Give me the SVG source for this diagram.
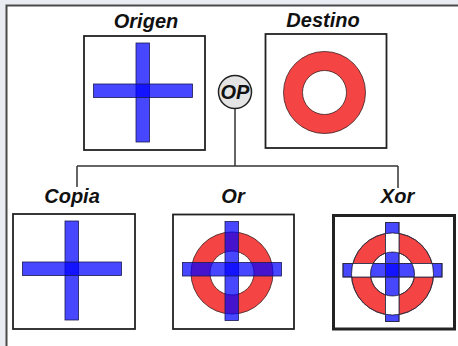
<svg xmlns="http://www.w3.org/2000/svg" xmlns:xlink="http://www.w3.org/1999/xlink" width="458" height="346" viewBox="0 0 458 346">
<style>
.lbl{font-family:"Liberation Sans",Arial,sans-serif;font-weight:bold;font-style:italic;font-size:20px;fill:#111;text-anchor:middle}
.box{fill:#fff;stroke:#222;stroke-width:1.8}
.ring{fill:#f44444;stroke:#3a2020;stroke-width:0.8}
.bar{fill:#0000ff;fill-opacity:0.72;stroke:#1a1a50;stroke-width:0.8}
.outline{fill:none;stroke:#2a2a40;stroke-width:0.8}
.conn{stroke:#333;stroke-width:1.5;fill:none}
</style>
<defs>
<path id="ring" fill-rule="evenodd" clip-rule="evenodd" d="M18,58.5 a41,41 0 1,0 82,0 a41,41 0 1,0 -82,0 Z M37,58.5 a22,22 0 1,0 44,0 a22,22 0 1,0 -44,0 Z"/>
<g id="cross"><rect x="52" y="7" width="13.5" height="99"/><rect x="9.5" y="48" width="99" height="13.5"/></g>
<clipPath id="annulus"><use xlink:href="#ring"/></clipPath>
</defs>
<rect x="0" y="0" width="458" height="346" fill="#e9edf1"/>
<rect x="6.5" y="5.5" width="460" height="350" fill="#fff" stroke="#4a4a4a" stroke-width="2"/>
<g id="connectors">
<line class="conn" x1="235" y1="108" x2="235" y2="166"/>
<line class="conn" x1="77" y1="166" x2="398" y2="166"/>
<line class="conn" x1="77" y1="166" x2="77" y2="187"/>
<line class="conn" x1="398" y1="166" x2="398" y2="188"/>
</g>
<g id="origen">
<text class="lbl" x="146" y="28">Origen</text>
<g transform="translate(84,36)">
<rect class="box" x="0" y="0" width="121" height="114"/>
<use xlink:href="#cross" class="bar"/>
</g>
</g>
<g id="destino">
<text class="lbl" x="323" y="27">Destino</text>
<g transform="translate(265.5,34)">
<rect class="box" x="0" y="0" width="121" height="114"/>
<use xlink:href="#ring" class="ring"/>
</g>
</g>
<g id="op">
<circle cx="235" cy="92" r="16.5" fill="#e4e4e4" stroke="#222" stroke-width="1.5"/>
<text class="lbl" x="235" y="98.5">OP</text>
</g>
<g id="copia">
<text class="lbl" x="72" y="203">Copia</text>
<g transform="translate(13,214)">
<rect class="box" x="0" y="0" width="122" height="115"/>
<use xlink:href="#cross" class="bar"/>
</g>
</g>
<g id="or">
<text class="lbl" x="233" y="203">Or</text>
<g transform="translate(173,214.5)">
<rect class="box" x="0" y="0" width="121" height="114.5"/>
<use xlink:href="#ring" class="ring"/>
<use xlink:href="#cross" class="bar"/>
</g>
</g>
<g id="xor">
<text class="lbl" x="397.5" y="203">Xor</text>
<g transform="translate(333.5,215.5)">
<rect class="box" x="0" y="0" width="121" height="113.5" style="stroke-width:3"/>
<use xlink:href="#ring" class="ring"/>
<use xlink:href="#cross" class="bar"/>
<g clip-path="url(#annulus)"><use xlink:href="#cross" style="fill:#fff;fill-opacity:1;stroke:none"/></g>
<use xlink:href="#cross" class="outline"/>
<use xlink:href="#ring" class="outline"/>
</g>
</g>
</svg>
